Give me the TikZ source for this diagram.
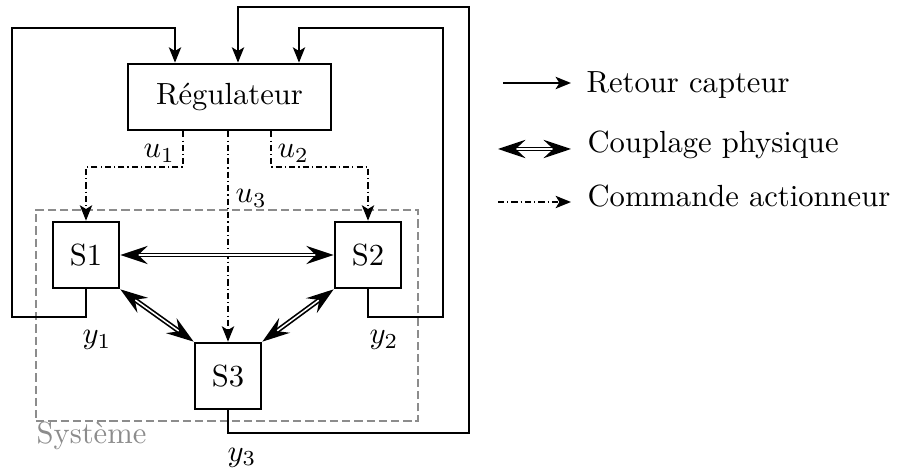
\documentclass[tikz,border=0pt]{standalone}
\usetikzlibrary{arrows.meta}
\begin{document}
\begin{tikzpicture}[x=0.3268pt, y=-0.3268pt,
  box/.style={draw, line width=0.85pt, minimum width=21.6pt, minimum height=21.6pt, inner sep=0pt},
  fb/.style={line width=0.75pt, -{Stealth[length=5pt,width=4pt,inset=1.2pt]}},
  cmd/.style={line width=0.65pt, dash pattern=on 2pt off 1pt on 0.4pt off 1pt, -{Stealth[length=5pt,width=4pt,inset=1.2pt]}},
  coup/.style={line width=0.55pt, double=white, double distance=0.5pt, {Stealth[length=9pt,width=6pt,inset=3.2pt]}-{Stealth[length=9pt,width=6pt,inset=3.2pt]}},
  lab/.style={inner sep=0pt, anchor=base west},
  sysbox/.style={draw=gray!90, line width=0.6pt, dash pattern=on 2.7pt off 1.3pt, minimum width=124.8pt, minimum height=69pt, inner sep=0pt}
]
\useasboundingbox (0,0) rectangle (898,470);
% system frame
\node[sysbox] (sys) at (227,315.5) {};
\node[lab, text=gray!90] (syslab) at (36,444) {Système};
% blocks
\node[box, minimum width=66.3pt] (reg) at (229.5,97) {Régulateur};
\node[box] (s1) at (86,255) {S1};
\node[box] (s2) at (368,255) {S2};
\node[box] (s3) at (228,376) {S3};
% feedback
\draw[fb] (s1.south) |- (12,317) |- (175,28) -- (175,28 |- reg.north);
\draw[fb] (s2.south) |- (443,317) |- (299,28) -- (299,28 |- reg.north);
\draw[fb] (s3.south) |- (469,433) |- (238,7) -- (238,7 |- reg.north);
% commands
\draw[cmd] (183,0 |- reg.south) |- (86,167) -- (s1.north);
\draw[cmd] (271,0 |- reg.south) |- (368,167) -- (s2.north);
\draw[cmd] (s3.north |- reg.south) -- (s3.north);
% couplings
\draw[coup] (s1.east) -- (s2.west);
\draw[coup] (s1.south east) -- (s3.north west);
\draw[coup] (s2.south west) -- (s3.north east);
% labels
\node[lab] (u1) at (143,158) {$u_1$};
\node[lab] (u2) at (277,158) {$u_2$};
\node[lab] (u3) at (235,203) {$u_3$};
\node[lab] (y1) at (82,344) {$y_1$};
\node[lab] (y2) at (369,344) {$y_2$};
\node[lab] (y3) at (227,461) {$y_3$};
% legend
\coordinate (la1) at (503,83); \coordinate (lb1) at (571,83);
\coordinate (la2) at (498,149); \coordinate (lb2) at (571,149);
\coordinate (la3) at (498,202); \coordinate (lb3) at (571,202);
\draw[fb] (la1) -- (lb1);
\draw[coup] (la2) -- (lb2);
\draw[cmd] (la3) -- (lb3);
\node[lab] (t1) at (586,93) {Retour capteur};
\node[lab] (t2) at (587,153) {Couplage physique};
\node[lab] (t3) at (587,207) {Commande actionneur};
\end{tikzpicture}
\end{document}
